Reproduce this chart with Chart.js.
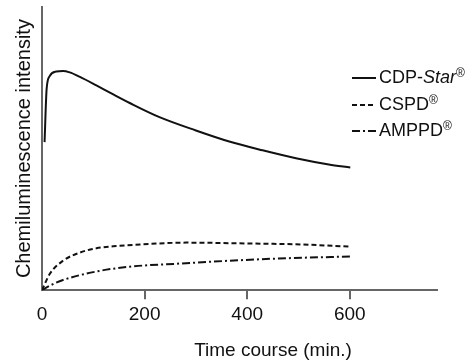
<!DOCTYPE html>
<html>
<head>
<meta charset="utf-8">
<script src="https://cdn.jsdelivr.net/npm/chart.js@4.4.1/dist/chart.umd.min.js"></script>
<style>
  body { margin: 0; background: #fff; }
  #wrap { width: 473px; height: 363px; }
</style>
</head>
<body>
<div id="wrap"><canvas id="chemChart" width="473" height="363"></canvas></div>
<script>
// values (time in min, intensity in arbitrary units 0-100)
const cdpStarTimes = [5, 9, 15, 28, 41, 54, 74, 106, 138, 171, 229, 300, 365, 430, 495, 559, 601];
const cdpStarValues = [52.3, 71, 75.6, 77.2, 77.4, 76.9, 75.3, 72.3, 69.2, 66.1, 61.1, 56.4, 52.5, 49.4, 46.6, 44.4, 43.3];

const cspdTimes = [0, 15, 41, 74, 106, 145, 197, 281, 397, 495, 602];
const cspdValues = [0, 5.7, 10.4, 13.3, 14.8, 15.6, 16.2, 16.8, 16.5, 16.2, 15.4];

const amppdTimes = [0, 15, 41, 106, 171, 268, 365, 462, 602];
const amppdValues = [0, 1.6, 3.6, 6.6, 8.3, 9.4, 10.4, 11.2, 11.9];

const xTickValues = [0, 200, 400, 600];
const xTitle = 'Time course (min.)';
const yTitle = 'Chemiluminescence intensity';

const FONT = "'Liberation Sans', Arial, Helvetica, sans-serif";
const AXIS_COLOR = '#666';
const INK = '#111';

const toPoints = (times, values) => times.map((t, i) => ({ x: t, y: values[i] }));

// legend + x title drawn by hand (legend needs italic "Star" and small ® marks)
const annotations = {
  id: 'annotations',
  afterDraw(chart) {
    const ctx = chart.ctx;
    ctx.save();
    ctx.fillStyle = INK;
    ctx.textBaseline = 'middle';

    ctx.font = '19px ' + FONT;
    ctx.textAlign = 'center';
    ctx.fillText(xTitle, 273, 351);

    const rows = [
      { parts: [['CDP-', ''], ['Star', 'italic '], ['®', 'sup']], y: 78 },
      { parts: [['CSPD', ''], ['®', 'sup']], y: 105 },
      { parts: [['AMPPD', ''], ['®', 'sup']], y: 131 },
    ];
    ctx.textAlign = 'left';
    rows.forEach((row, i) => {
      const ds = chart.data.datasets[i];
      ctx.beginPath();
      ctx.strokeStyle = ds.borderColor;
      ctx.lineWidth = ds.borderWidth;
      ctx.setLineDash(ds.borderDash || []);
      ctx.moveTo(352, row.y);
      ctx.lineTo(376, row.y);
      ctx.stroke();
      ctx.setLineDash([]);

      let x = 379;
      row.parts.forEach(([text, style]) => {
        if (style === 'sup') {
          ctx.font = '12px ' + FONT;
          ctx.fillText(text, x, row.y - 4);
        } else {
          ctx.font = style + '18px ' + FONT;
          ctx.fillText(text, x, row.y);
        }
        x += ctx.measureText(text).width;
      });
    });
    ctx.restore();
  }
};

const ctx = document.getElementById('chemChart').getContext('2d');
new Chart(ctx, {
  type: 'line',
  data: {
    datasets: [
      {
        label: 'CDP-Star',
        data: toPoints(cdpStarTimes, cdpStarValues),
        borderColor: INK,
        borderWidth: 2,
      },
      {
        label: 'CSPD',
        data: toPoints(cspdTimes, cspdValues),
        borderColor: INK,
        borderWidth: 2,
        borderDash: [5, 3],
      },
      {
        label: 'AMPPD',
        data: toPoints(amppdTimes, amppdValues),
        borderColor: INK,
        borderWidth: 2,
        borderDash: [8, 3, 2, 3],
      },
    ],
  },
  options: {
    responsive: false,
    animation: false,
    cubicInterpolationMode: 'monotone',
    pointRadius: 0,
    font: { family: FONT },
    layout: { padding: { top: 7, right: 36, bottom: 33, left: 0 } },
    plugins: {
      legend: { display: false },
      tooltip: { enabled: false },
    },
    scales: {
      x: {
        type: 'linear',
        min: 0,
        max: 770,
        afterBuildTicks: (scale) => {
          scale.ticks = xTickValues.map((v) => ({ value: v }));
        },
        ticks: {
          color: INK,
          padding: 4,
          maxRotation: 0,
          font: { family: FONT, size: 19 },
        },
        grid: {
          drawOnChartArea: false,
          drawTicks: true,
          tickLength: 9,
          lineWidth: 2,
          color: (c) => (c.tick && c.tick.value === 0 ? 'rgba(0,0,0,0)' : AXIS_COLOR),
        },
        border: { display: true, color: AXIS_COLOR, width: 2 },
      },
      y: {
        min: 0,
        max: 100,
        ticks: { display: false },
        grid: { display: false, drawTicks: false },
        border: { display: true, color: AXIS_COLOR, width: 2 },
        title: {
          display: true,
          text: yTitle,
          color: INK,
          font: { family: FONT, size: 20 },
          padding: { top: 12, bottom: 6 },
        },
      },
    },
  },
  plugins: [annotations],
});
</script>
</body>
</html>
